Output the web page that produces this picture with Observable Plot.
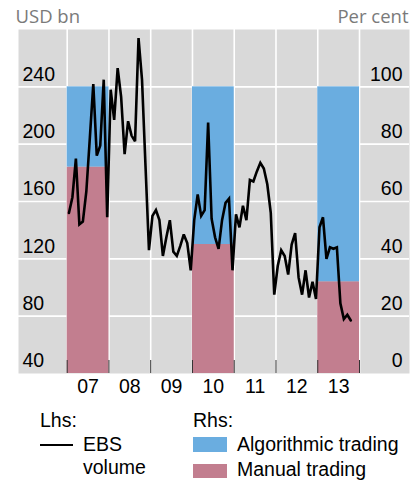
<!DOCTYPE html>
<html>
<head>
<meta charset="utf-8">
<script src="https://cdn.jsdelivr.net/npm/d3@7"></script>
<script src="https://cdn.jsdelivr.net/npm/@observablehq/plot@0.6"></script>
<style>
  body { margin: 0; background: #fff; }
  #wrap { position: relative; width: 419px; height: 483px; font-family: "Liberation Sans", Arial, sans-serif; color: #000; }
  #chart { position: absolute; left: 0; top: 0; }
  .lg { position: absolute; font-size: 19.5px; line-height: 19.5px; white-space: nowrap; }
  .sw { position: absolute; }
</style>
</head>
<body>
<div id="wrap">
  <div id="chart"></div>
  <div id="legend"></div>
</div>
<script>
// ---- Data ----
// EBS monthly volume (USD bn), Jan 2007 – Oct 2013
const ebsStartYear = 2007;
const ebsVolume = [
  152, 163, 190, 144, 146, 167, 204, 242, 192, 199, 245, 149,
  238, 217, 253, 233, 193, 216, 206, 202, 274, 245, 185, 126,
  150, 154, 147, 122, 135, 147, 125, 122, 129, 137, 131, 112,
  147, 165, 150, 154, 215, 148, 135, 127, 147, 159, 162, 112,
  151, 142, 157, 147, 175, 174, 181, 187, 183, 172, 152, 95,
  115, 126, 122, 109, 130, 138, 107, 95, 112, 93, 104, 92,
  142, 149, 120, 128, 127, 128, 89, 78, 81, 77
];
// Share of trading (per cent) in survey years
const barYears = [2007, 2010, 2013];
const manualShare = [72, 45, 32];
const algoShare = [28, 55, 68];
// Axis ticks
const leftTicks = [40, 80, 120, 160, 200, 240];
const rightTicks = [0, 20, 40, 60, 80, 100];
const yearEdges = [2007, 2008, 2009, 2010, 2011, 2012, 2013, 2014];
const yearLabelYears = [2007, 2008, 2009, 2010, 2011, 2012, 2013];
const yearLabels = ["07", "08", "09", "10", "11", "12", "13"];

// ---- Colours ----
const cBg = "#d9d9d9", cAlgo = "#6aade0", cManual = "#c27e8f";

// Rhs (per cent) mapped onto Lhs (USD bn) scale: 0% -> 40, 100% -> 240
const pctToLhs = p => 40 + p * 2;

const lineData = ebsVolume.map((v, i) => ({ t: ebsStartYear + (i + 0.5) / 12, v }));
const bars = barYears.map((y, i) => ({ year: y, manual: manualShare[i], algo: algoShare[i] }));
const xLabels = yearLabelYears.map((y, i) => ({ year: y, label: yearLabels[i] }));

const chart = Plot.plot({
  width: 419,
  height: 400,
  marginLeft: 18,
  marginRight: 10,
  marginTop: 29,
  marginBottom: 27,
  x: { type: "linear", domain: [2005.834, 2015.197], axis: null },
  y: { domain: [40, 280], axis: null },
  style: { fontFamily: "'Liberation Sans', Arial, sans-serif", fontSize: "19.5px", background: "transparent", overflow: "visible", color: "#000" },
  marks: [
    Plot.frame({ fill: cBg, stroke: null }),
    Plot.ruleY(leftTicks.filter(d => d > 40), { y: d => d, stroke: "white", strokeWidth: 1.6 }),
    Plot.ruleX(yearEdges, { x: d => d, stroke: "white", strokeWidth: 1.6 }),
    Plot.rectY(bars, { x1: "year", x2: d => d.year + 1, y1: () => pctToLhs(0), y2: d => pctToLhs(d.manual), fill: cManual }),
    Plot.rectY(bars, { x1: "year", x2: d => d.year + 1, y1: d => pctToLhs(d.manual), y2: d => pctToLhs(d.manual + d.algo), fill: cAlgo }),
    Plot.ruleX(yearEdges, { x: d => d, stroke: "#333", strokeWidth: 1, insetTop: 331 }),
    Plot.line(lineData, { x: "t", y: "v", stroke: "#000", strokeWidth: 2.6, strokeLinejoin: "miter", strokeMiterlimit: 3 }),
    Plot.text(leftTicks, { y: d => d, text: d => String(d), frameAnchor: "left", textAnchor: "start", dx: 4, dy: -12.3, fill: "#000" }),
    Plot.text(rightTicks, { y: d => pctToLhs(d), text: d => String(d), frameAnchor: "right", textAnchor: "end", dx: -7, dy: -12.3, fill: "#000" }),
    Plot.text(xLabels, { x: d => d.year + 0.5, text: "label", frameAnchor: "bottom", dy: 19, fill: "#000" }),
    Plot.text(["USD bn"], { text: d => d, frameAnchor: "top-left", textAnchor: "start", lineAnchor: "bottom", dx: -3, dy: -6.3, fill: "#7a7a7a", fontFamily: "'Open Sans', sans-serif", fontSize: 18.5 }),
    Plot.text(["Per cent"], { text: d => d, frameAnchor: "top-right", textAnchor: "end", lineAnchor: "bottom", dx: -1, dy: -6.3, fill: "#7a7a7a", fontFamily: "'Open Sans', sans-serif", fontSize: 18.5 })
  ]
});
document.getElementById("chart").appendChild(chart);

// ---- Legend ----
const legend = document.getElementById("legend");
function add(html, style, cls) {
  const el = document.createElement("div");
  el.className = cls;
  el.innerHTML = html;
  Object.assign(el.style, style);
  legend.appendChild(el);
}
add("Lhs:", { left: "40px", top: "410.5px" }, "lg");
add("", { left: "40px", top: "444px", width: "33px", height: "2.4px", background: "#000" }, "sw");
add("EBS", { left: "83px", top: "434.5px" }, "lg");
add("volume", { left: "83px", top: "458px" }, "lg");
add("Rhs:", { left: "193px", top: "410.5px" }, "lg");
add("", { left: "193px", top: "437px", width: "34px", height: "15px", background: cAlgo }, "sw");
add("Algorithmic trading", { left: "237px", top: "434.5px" }, "lg");
add("", { left: "193px", top: "464px", width: "34px", height: "14px", background: cManual }, "sw");
add("Manual trading", { left: "237px", top: "459.5px" }, "lg");
</script>
</body>
</html>
